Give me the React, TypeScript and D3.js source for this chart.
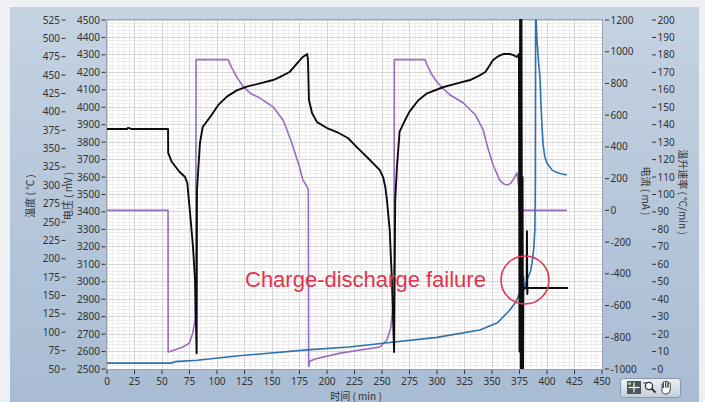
import React from 'react';
import * as d3 from 'd3';

// axis tick values
const timeTicks = [0, 25, 50, 75, 100, 125, 150, 175, 200, 225, 250, 275, 300, 325, 350, 375, 400, 425, 450];
const voltTicks = [2500, 2600, 2700, 2800, 2900, 3000, 3100, 3200, 3300, 3400, 3500, 3600, 3700, 3800, 3900, 4000, 4100, 4200, 4300, 4400, 4500];
const tempTicks = [50, 75, 100, 125, 150, 175, 200, 225, 250, 275, 300, 325, 350, 375, 400, 425, 450, 475, 500, 525];
const currentTicks = [-1000, -800, -600, -400, -200, 0, 200, 400, 600, 800, 1000, 1200];
const rateTicks = [0, 10, 20, 30, 40, 50, 60, 70, 80, 90, 100, 110, 120, 130, 140, 150, 160, 170, 180, 190, 200];

// voltage (mV) vs time (min)
const voltage: [number, number][] = [
  [0, 3875], [18, 3875], [19, 3882], [21, 3879], [22, 3875], [55.5, 3875], [55.6, 3738], [59, 3686],
  [66, 3629], [71, 3600], [73, 3566], [75.5, 3394], [78.2, 3199], [80, 3010], [81.5, 2590],
  [81.8, 3526], [84.5, 3795], [87, 3887], [94, 3946], [101, 4012], [109, 4061], [118, 4097],
  [127, 4118], [140, 4138], [151, 4156], [157, 4173], [166, 4202], [172, 4245], [178, 4288],
  [182, 4305], [182.7, 4271], [183.6, 4042], [186.4, 3967], [190.9, 3915], [200, 3881],
  [209, 3858], [219, 3824], [228, 3766], [239, 3698], [248, 3640], [251, 3600], [253, 3543],
  [254.5, 3468], [257, 3297], [259, 3010], [261, 2597], [262, 3468], [263.6, 3658], [266, 3860],
  [271, 3927], [275, 3975], [283, 4040], [291, 4080], [306, 4116], [320, 4140], [330, 4156],
  [338, 4180], [344, 4202], [351, 4271], [355, 4290], [360, 4305], [366, 4305], [369, 4300],
  [372.7, 4288], [374.5, 4305], [375, 2600], [375.6, 4600], [376.2, 2450], [376.8, 4600],
  [377.4, 2450], [377.8, 3600], [378.2, 2450], [378.5, 2964], [381.5, 2964], [381.8, 3290],
  [382.1, 2930], [382.4, 2964], [419, 2964],
];

// current (mA) vs time (min)
const current: [number, number][] = [
  [0, 0], [55.5, 0], [55.6, -893], [62, -878], [69, -861], [75, -836], [78, -773], [80, -691],
  [80.7, -450], [81, 950], [110, 950], [113.6, 897], [118, 840], [124, 778], [131, 735],
  [139, 708], [151, 652], [160, 570], [164, 500], [168, 425], [175, 273], [178, 192], [182, 147],
  [183, 128], [183.3, -985], [184.5, -950], [190, -935], [212, -900], [248, -861], [254.5, -817],
  [258, -740], [260, -600], [261, -300], [261.2, 950], [289, 950], [291, 916], [295, 860],
  [300, 809], [306, 765], [312, 727], [324, 677], [335, 601], [342, 507], [346, 400], [351, 286],
  [357, 191], [361, 165], [364, 160], [367, 170], [369, 191], [372.7, 236], [374.3, 150],
  [374.5, 0], [418, 0],
];

// temperature (°C) vs time (min)
const temperature: [number, number][] = [
  [0, 58], [58, 58], [62, 60], [82, 62], [120, 68], [182, 76], [220, 80], [251, 85], [300, 93],
  [339, 103], [355, 113], [366, 130], [372, 142], [375, 153], [378, 162], [378.8, 176],
  [379.5, 158], [380.5, 165], [383, 176], [385, 183], [386.5, 195], [388, 215], [389, 240],
  [389.4, 300], [389.7, 580], [390.1, 525], [391, 495], [392.5, 465], [393.6, 447], [394.5, 410],
  [395.5, 379], [396.5, 355], [398, 339], [400, 330], [404.5, 321], [408, 318], [412, 316], [418, 314],
];

const W = 705;
const H = 402;
const P = { left: 107, right: 602, top: 20, bottom: 369 };

const x = d3.scaleLinear().domain([0, 450]).range([P.left, P.right]);
const yV = d3.scaleLinear().domain([2500, 4500]).range([P.bottom, P.top]);
const yT = d3.scaleLinear().domain([50, 525]).range([P.bottom, P.top]);
const yI = d3.scaleLinear().domain([-1000, 1200]).range([P.bottom, P.top]);
const yR = d3.scaleLinear().domain([0, 200]).range([P.bottom, P.top]);

const tickFont = { fontFamily: '"Noto Sans", "Liberation Sans", sans-serif', fontSize: 10, fill: '#333' };
const titleFont = { fontFamily: '"Noto Sans CJK SC", "Noto Sans", sans-serif', fontSize: 10, fill: '#333' };

export default function App() {
  const vLine = d3.line<[number, number]>().x(d => x(d[0])).y(d => yV(d[1]));
  const iLine = d3.line<[number, number]>().x(d => x(d[0])).y(d => yI(d[1]));
  const tLine = d3.line<[number, number]>().x(d => x(d[0])).y(d => yT(d[1]));

  const minorX = d3.range(0, 451, 5);
  const minorY = d3.range(2500, 4501, 20);

  return (
    <svg width={W} height={H} style={{ position: 'absolute', left: 0, top: 0, display: 'block' }}>
      <defs>
        <linearGradient id="panel" x1="0" y1="0" x2="0" y2="1">
          <stop offset="0" stopColor="#c5d3e2" />
          <stop offset="1" stopColor="#a8bcd3" />
        </linearGradient>
        <linearGradient id="btn" x1="0" y1="0" x2="0" y2="1">
          <stop offset="0" stopColor="#eef2f6" />
          <stop offset="1" stopColor="#c3cedb" />
        </linearGradient>
        <clipPath id="plotClip">
          <rect x={P.left} y={P.top - 1} width={P.right - P.left} height={P.bottom - P.top + 1} />
        </clipPath>
      </defs>

      <rect x={0} y={0} width={W} height={H} fill="#eef0f3" />
      <rect x={10} y={7} width={689} height={H - 7} fill="url(#panel)" />

      {/* plot background + grid */}
      <rect x={P.left} y={P.top - 1} width={P.right - P.left} height={P.bottom - P.top + 1} fill="#fff" />
      <g shapeRendering="crispEdges">
        {minorX.map(t => (
          <line key={'mx' + t} x1={x(t)} x2={x(t)} y1={P.top} y2={P.bottom} stroke="#ececec" />
        ))}
        {minorY.map(v => (
          <line key={'my' + v} x1={P.left} x2={P.right} y1={yV(v)} y2={yV(v)} stroke="#ececec" />
        ))}
        {timeTicks.map(t => (
          <line key={'gx' + t} x1={x(t)} x2={x(t)} y1={P.top} y2={P.bottom} stroke="#d5d5d5" />
        ))}
        {voltTicks.map(v => (
          <line key={'gy' + v} x1={P.left} x2={P.right} y1={yV(v)} y2={yV(v)} stroke="#d5d5d5" />
        ))}
        <rect x={P.left - 0.5} y={P.top - 1} width={P.right - P.left + 1} height={P.bottom - P.top + 1.5}
          fill="none" stroke="#9aa3ad" />
      </g>

      {/* series */}
      <g clipPath="url(#plotClip)" fill="none" strokeLinejoin="round">
        <path d={iLine(current) ?? ''} stroke="#9b6cc0" strokeWidth={1.6} />
        <path d={tLine(temperature) ?? ''} stroke="#2f70ae" strokeWidth={1.6} />
        <path d={vLine(voltage) ?? ''} stroke="#0d0d0d" strokeWidth={1.9} />
      </g>

      {/* annotation */}
      <text x={245} y={287} fill="#e0344f" fontSize={22}
        fontFamily='"Liberation Sans", Arial, sans-serif'>Charge-discharge failure</text>
      <circle cx={525} cy={280} r={24} fill="none" stroke="#e0344f" strokeWidth={1.6} />

      {/* bottom axis */}
      <g>
        {timeTicks.map(t => (
          <g key={'bt' + t}>
            <line x1={x(t)} x2={x(t)} y1={P.bottom + 1} y2={P.bottom + 5} stroke="#333" />
            <text x={x(t)} y={384.5} textAnchor="middle" {...tickFont}>{t}</text>
          </g>
        ))}
        <text x={356} y={399.5} textAnchor="middle" {...titleFont}>时间 ( min )</text>
      </g>

      {/* left voltage axis */}
      {voltTicks.map(v => (
        <g key={'lv' + v}>
          <line x1={101.5} x2={105.5} y1={yV(v)} y2={yV(v)} stroke="#333" />
          <text x={100} y={yV(v) + 3.5} textAnchor="end" {...tickFont}>{v}</text>
        </g>
      ))}
      {/* left temperature axis */}
      {tempTicks.map(v => (
        <g key={'lt' + v}>
          <line x1={61.5} x2={65.5} y1={yT(v)} y2={yT(v)} stroke="#333" />
          <text x={60} y={yT(v) + 3.5} textAnchor="end" {...tickFont}>{v}</text>
        </g>
      ))}
      <text transform="translate(34,196) rotate(-90)" textAnchor="middle" {...titleFont}>温度 ( ℃ )</text>
      <text transform="translate(72,196) rotate(-90)" textAnchor="middle" {...titleFont}>电压 ( mV )</text>

      {/* right current axis */}
      {currentTicks.map(v => (
        <g key={'rc' + v}>
          <line x1={605} x2={609} y1={yI(v)} y2={yI(v)} stroke="#333" />
          <text x={610.5} y={yI(v) + 3.5} {...tickFont}>{String(v)}</text>
        </g>
      ))}
      {/* right rate axis */}
      {rateTicks.map(v => (
        <g key={'rr' + v}>
          <line x1={652} x2={656} y1={yR(v)} y2={yR(v)} stroke="#333" />
          <text x={657.5} y={yR(v) + 3.5} {...tickFont}>{v}</text>
        </g>
      ))}
      <text transform="translate(642,191) rotate(90)" textAnchor="middle" {...titleFont}>电流 ( mA )</text>
      <text transform="translate(679,192) rotate(90)" textAnchor="middle" {...titleFont}>温升速率 ( ℃/min )</text>

      {/* graph palette buttons */}
      <g>
        <rect x={620.5} y={378.5} width={60} height={19} rx={3} fill="url(#btn)" stroke="#8796aa" />
        <rect x={627} y={381} width={14} height={13} fill="#4d5656" />
        <circle cx={629.5} cy={383.5} r={1.6} fill="#7ee06a" />
        <line x1={634} x2={634} y1={382.5} y2={392.5} stroke="#fff" strokeWidth={1.2} />
        <line x1={628.5} x2={639.5} y1={387.5} y2={387.5} stroke="#fff" strokeWidth={1.2} />
        <circle cx={649} cy={386} r={3.6} fill="#fff" stroke="#333" strokeWidth={1.3} />
        <line x1={651.5} x2={655.5} y1={388.5} y2={392.5} stroke="#333" strokeWidth={2} />
        <line x1={643.5} x2={647} y1={383} y2={383} stroke="#333" strokeWidth={1} />
        <path d="M662,392 L662,385 Q662,383.5 663.3,383.5 L663.3,388 L663.3,382 Q664.5,380.8 665.7,382 L665.7,387.5 L665.7,381.5 Q667,380.5 668,381.8 L668,387.5 L668,383 Q669.3,382 670.3,383.3 L670.3,390 Q669.5,394 666,394 L664,394 Z"
          fill="#fff" stroke="#333" strokeWidth={0.9} />
      </g>
    </svg>
  );
}
